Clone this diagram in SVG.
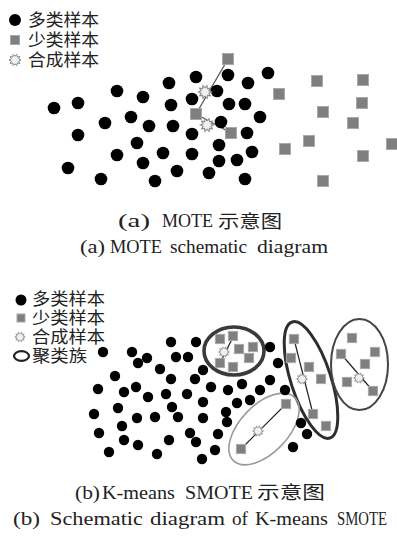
<svg xmlns="http://www.w3.org/2000/svg" xmlns:xlink="http://www.w3.org/1999/xlink" width="397" height="537" viewBox="0 0 397 537">
  <style>
    .maj { fill: #000; }
    .mino { fill: #7f7f7f; stroke: #a9a9a9; stroke-width: 1; }
    .syn { fill: #f0f0f0; stroke: #8a8a8a; stroke-width: 1; }
    .lbl { font-family: "Liberation Sans", "Noto Sans CJK SC", sans-serif; font-size: 17px; fill: #222; }
    .lbl2 { font-family: "Liberation Sans", "Noto Sans CJK SC", sans-serif; font-size: 16.5px; fill: #222; }
    .cap { font-family: "Liberation Serif", "Noto Sans CJK SC", serif; font-size: 18px; fill: #222; }
    .capzh { font-family: "Liberation Serif", "Noto Sans CJK SC", sans-serif; font-size: 18px; fill: #222; }
    .link { stroke: #555; stroke-width: 1.3; fill: none; }
    .linkb { stroke: #222; stroke-width: 1.2; fill: none; }
  </style>
  <defs>
    <polygon id="star" points="6,0 3.61,1.17 4.85,3.53 2.23,3.07 1.85,5.71 0,3.8 -1.85,5.71 -2.23,3.07 -4.85,3.53 -3.61,1.17 -6,0 -3.61,-1.17 -4.85,-3.53 -2.23,-3.07 -1.85,-5.71 0,-3.8 1.85,-5.71 2.23,-3.07 4.85,-3.53 3.61,-1.17"/>
    <rect id="sqA" x="-5.5" y="-5.5" width="11" height="11"/>
    <rect id="sqB" x="-4.6" y="-4.6" width="9.2" height="9.2"/>
  </defs>
  <rect width="397" height="537" fill="#fff"/>

  <!-- Panel (a): SMOTE -->
  <g id="legend-a">
    <circle class="maj" cx="15" cy="20" r="6"/>
    <text class="lbl" x="28" y="26" textLength="71" lengthAdjust="spacingAndGlyphs">多类样本</text>
    <rect class="mino" x="10.5" y="35.5" width="9" height="9"/>
    <text class="lbl" x="28" y="46" textLength="71" lengthAdjust="spacingAndGlyphs">少类样本</text>
    <use href="#star" class="syn" transform="translate(15,60)"/>
    <text class="lbl" x="28" y="66" textLength="71" lengthAdjust="spacingAndGlyphs">合成样本</text>
  </g>

  <g id="connectors-a">
    <line class="link" x1="228" y1="59" x2="196" y2="114"/>
    <line class="link" x1="196" y1="114" x2="231" y2="133"/>
  </g>

  <g id="majority-a" class="maj">
    <circle cx="54" cy="108" r="6.3"/><circle cx="78" cy="103" r="6.3"/><circle cx="117" cy="91" r="6.3"/>
    <circle cx="143" cy="97" r="6.3"/><circle cx="169" cy="83" r="6.3"/><circle cx="196" cy="77" r="6.3"/>
    <circle cx="171" cy="105" r="6.3"/><circle cx="192" cy="99" r="6.3"/><circle cx="105" cy="123" r="6.3"/>
    <circle cx="131" cy="117" r="6.3"/><circle cx="149" cy="126" r="6.3"/><circle cx="173" cy="126" r="6.3"/>
    <circle cx="192" cy="134" r="6.3"/><circle cx="78" cy="135" r="6.3"/><circle cx="137" cy="143" r="6.3"/>
    <circle cx="117" cy="155" r="6.3"/><circle cx="163" cy="153" r="6.3"/><circle cx="192" cy="154" r="6.3"/>
    <circle cx="143" cy="163" r="6.3"/><circle cx="177" cy="171" r="6.3"/><circle cx="68" cy="168" r="6.3"/>
    <circle cx="101" cy="179" r="6.3"/><circle cx="155" cy="181" r="6.3"/>
    <circle cx="228" cy="75" r="6.3"/><circle cx="268" cy="73" r="6.3"/><circle cx="248" cy="83" r="6.3"/>
    <circle cx="217" cy="91" r="6.3"/><circle cx="229" cy="104" r="6.3"/><circle cx="245" cy="104" r="6.3"/>
    <circle cx="221" cy="122" r="6.3"/><circle cx="260" cy="117" r="6.3"/><circle cx="247" cy="133" r="6.3"/>
    <circle cx="219" cy="145" r="6.3"/><circle cx="252" cy="152" r="6.3"/><circle cx="219" cy="161" r="6.3"/>
    <circle cx="237" cy="160" r="6.3"/><circle cx="209" cy="173" r="6.3"/><circle cx="245" cy="179" r="6.3"/>
  </g>

  <g id="minority-a" class="mino">
    <use href="#sqA" x="228" y="59"/><use href="#sqA" x="196" y="114"/><use href="#sqA" x="231" y="133"/>
    <use href="#sqA" x="279" y="94"/><use href="#sqA" x="317" y="81"/><use href="#sqA" x="363" y="80"/>
    <use href="#sqA" x="362" y="103"/><use href="#sqA" x="323" y="112"/><use href="#sqA" x="353" y="123"/>
    <use href="#sqA" x="309" y="141"/><use href="#sqA" x="285" y="149"/><use href="#sqA" x="392" y="144"/>
    <use href="#sqA" x="363" y="156"/><use href="#sqA" x="323" y="181"/>
  </g>

  <g id="synthetic-a" class="syn">
    <use href="#star" transform="translate(205,92) scale(1.1)"/>
    <use href="#star" transform="translate(207,125) scale(1.1)"/>
  </g>

  <g id="caption-a">
    <text class="cap" x="118" y="227" textLength="32" lengthAdjust="spacingAndGlyphs">(a)</text>
    <text class="cap" x="162" y="227" textLength="51" lengthAdjust="spacingAndGlyphs">MOTE</text>
    <text class="capzh" x="218" y="227.5" textLength="64" lengthAdjust="spacingAndGlyphs">示意图</text>
    <text class="cap" x="80" y="253" textLength="25" lengthAdjust="spacingAndGlyphs">(a)</text>
    <text class="cap" x="110" y="253" textLength="52" lengthAdjust="spacingAndGlyphs">MOTE</text>
    <text class="cap" x="170" y="253" textLength="77" lengthAdjust="spacingAndGlyphs">schematic</text>
    <text class="cap" x="257" y="253" textLength="71" lengthAdjust="spacingAndGlyphs">diagram</text>
  </g>

  <!-- Panel (b): K-means SMOTE -->
  <g id="legend-b">
    <circle class="maj" cx="21" cy="300" r="5.5"/>
    <text class="lbl2" x="32" y="304.5" textLength="73" lengthAdjust="spacingAndGlyphs">多类样本</text>
    <rect class="mino" x="17" y="314" width="8" height="8"/>
    <text class="lbl2" x="32" y="323.5" textLength="73" lengthAdjust="spacingAndGlyphs">少类样本</text>
    <use href="#star" class="syn" transform="translate(20,337) scale(0.85)"/>
    <text class="lbl2" x="32" y="343" textLength="73" lengthAdjust="spacingAndGlyphs">合成样本</text>
    <ellipse cx="21.5" cy="356" rx="7.5" ry="4.8" fill="none" stroke="#222" stroke-width="2.2"/>
    <text class="lbl2" x="32" y="362" textLength="55" lengthAdjust="spacingAndGlyphs">聚类族</text>
  </g>

  <g id="clusters-b" fill="none">
    <ellipse id="cluster-1" cx="234" cy="351" rx="30" ry="24" stroke="#3a3a3a" stroke-width="3.6"/>
    <ellipse id="cluster-2" cx="311" cy="380" rx="61" ry="20" transform="rotate(72 311 380)" stroke="#2e2e2e" stroke-width="3"/>
    <ellipse id="cluster-3" cx="359.5" cy="364.5" rx="28.5" ry="45.5" stroke="#444" stroke-width="2"/>
    <ellipse id="cluster-4" cx="264" cy="429" rx="44" ry="24" transform="rotate(-46 264 429)" stroke="#9a9a9a" stroke-width="1.6"/>
  </g>

  <g id="connectors-b">
    <line class="linkb" x1="233" y1="337" x2="220" y2="363"/>
    <line class="linkb" x1="294" y1="339" x2="313" y2="414"/>
    <line class="linkb" x1="341" y1="354" x2="373" y2="391"/>
    <line class="linkb" x1="286" y1="404" x2="241" y2="449"/>
  </g>

  <g id="majority-b" class="maj">
    <circle cx="103" cy="352" r="5.2"/><circle cx="132" cy="352" r="5.2"/><circle cx="138" cy="363" r="5.2"/>
    <circle cx="147" cy="358" r="5.2"/><circle cx="171" cy="342" r="5.2"/><circle cx="196" cy="342" r="5.2"/>
    <circle cx="176" cy="357" r="5.2"/><circle cx="188" cy="357" r="5.2"/><circle cx="160" cy="369" r="5.2"/>
    <circle cx="115" cy="376" r="5.2"/><circle cx="171" cy="379" r="5.2"/><circle cx="195" cy="379" r="5.2"/>
    <circle cx="98" cy="389" r="5.2"/><circle cx="124" cy="392" r="5.2"/><circle cx="136" cy="387" r="5.2"/>
    <circle cx="148" cy="397" r="5.2"/><circle cx="166" cy="394" r="5.2"/><circle cx="187" cy="394" r="5.2"/>
    <circle cx="118" cy="408" r="5.2"/><circle cx="172" cy="407" r="5.2"/><circle cx="94" cy="414" r="5.2"/>
    <circle cx="137" cy="418" r="5.2"/><circle cx="155" cy="417" r="5.2"/><circle cx="178" cy="417" r="5.2"/>
    <circle cx="122" cy="426" r="5.2"/><circle cx="99" cy="433" r="5.2"/><circle cx="190" cy="433" r="5.2"/>
    <circle cx="124" cy="440" r="5.2"/><circle cx="138" cy="445" r="5.2"/><circle cx="169" cy="440" r="5.2"/>
    <circle cx="196" cy="442" r="5.2"/><circle cx="109" cy="452" r="5.2"/><circle cx="157" cy="454" r="5.2"/>
    <circle cx="202" cy="459" r="5.2"/>
    <circle cx="270" cy="347" r="5.2"/><circle cx="278" cy="363" r="5.2"/><circle cx="203" cy="370" r="5.2"/>
    <circle cx="211" cy="387" r="5.2"/><circle cx="228" cy="390" r="5.2"/><circle cx="242" cy="384" r="5.2"/>
    <circle cx="260" cy="390" r="5.2"/><circle cx="270" cy="380" r="5.2"/><circle cx="285" cy="390" r="5.2"/>
    <circle cx="203" cy="402" r="5.2"/><circle cx="237" cy="403" r="5.2"/><circle cx="250" cy="400" r="5.2"/>
    <circle cx="226" cy="412" r="5.2"/><circle cx="203" cy="418" r="5.2"/><circle cx="227" cy="422" r="5.2"/>
    <circle cx="218" cy="434" r="5.2"/><circle cx="215" cy="450" r="5.2"/>
    <circle cx="301" cy="423" r="5.2"/><circle cx="307" cy="434" r="5.2"/><circle cx="293" cy="447" r="5.2"/>
  </g>

  <g id="minority-b" class="mino">
    <use href="#sqB" x="220" y="339"/><use href="#sqB" x="233" y="336"/><use href="#sqB" x="239" y="349"/>
    <use href="#sqB" x="253" y="347"/><use href="#sqB" x="249" y="358"/><use href="#sqB" x="220" y="363"/>
    <use href="#sqB" x="233" y="367"/>
    <use href="#sqB" x="294" y="339"/><use href="#sqB" x="291" y="358"/><use href="#sqB" x="309" y="367"/>
    <use href="#sqB" x="321" y="379"/><use href="#sqB" x="313" y="414"/><use href="#sqB" x="326" y="426"/>
    <use href="#sqB" x="352" y="338"/><use href="#sqB" x="341" y="354"/><use href="#sqB" x="375" y="352"/>
    <use href="#sqB" x="365" y="364"/><use href="#sqB" x="347" y="382"/><use href="#sqB" x="373" y="391"/>
    <use href="#sqB" x="286" y="404"/><use href="#sqB" x="241" y="449"/>
  </g>

  <g id="synthetic-b" class="syn">
    <use href="#star" transform="translate(224,352) scale(0.9)"/>
    <use href="#star" transform="translate(302,379) scale(0.9)"/>
    <use href="#star" transform="translate(359,378) scale(0.9)"/>
    <use href="#star" transform="translate(258,431) scale(0.9)"/>
  </g>

  <g id="caption-b">
    <text class="cap" x="75" y="498.5" textLength="25" lengthAdjust="spacingAndGlyphs">(b)</text>
    <text class="cap" x="102" y="498.5" textLength="73" lengthAdjust="spacingAndGlyphs">K-means</text>
    <text class="cap" x="185" y="498.5" textLength="68" lengthAdjust="spacingAndGlyphs">SMOTE</text>
    <text class="capzh" x="257" y="499" textLength="68" lengthAdjust="spacingAndGlyphs">示意图</text>
    <text class="cap" x="13" y="525" textLength="27" lengthAdjust="spacingAndGlyphs">(b)</text>
    <text class="cap" x="50" y="525" textLength="93" lengthAdjust="spacingAndGlyphs">Schematic</text>
    <text class="cap" x="150" y="525" textLength="75" lengthAdjust="spacingAndGlyphs">diagram</text>
    <text class="cap" x="232" y="525" textLength="16" lengthAdjust="spacingAndGlyphs">of</text>
    <text class="cap" x="255" y="525" textLength="73" lengthAdjust="spacingAndGlyphs">K-means</text>
    <text class="cap" x="337" y="525" textLength="50" lengthAdjust="spacingAndGlyphs">SMOTE</text>
  </g>
</svg>
